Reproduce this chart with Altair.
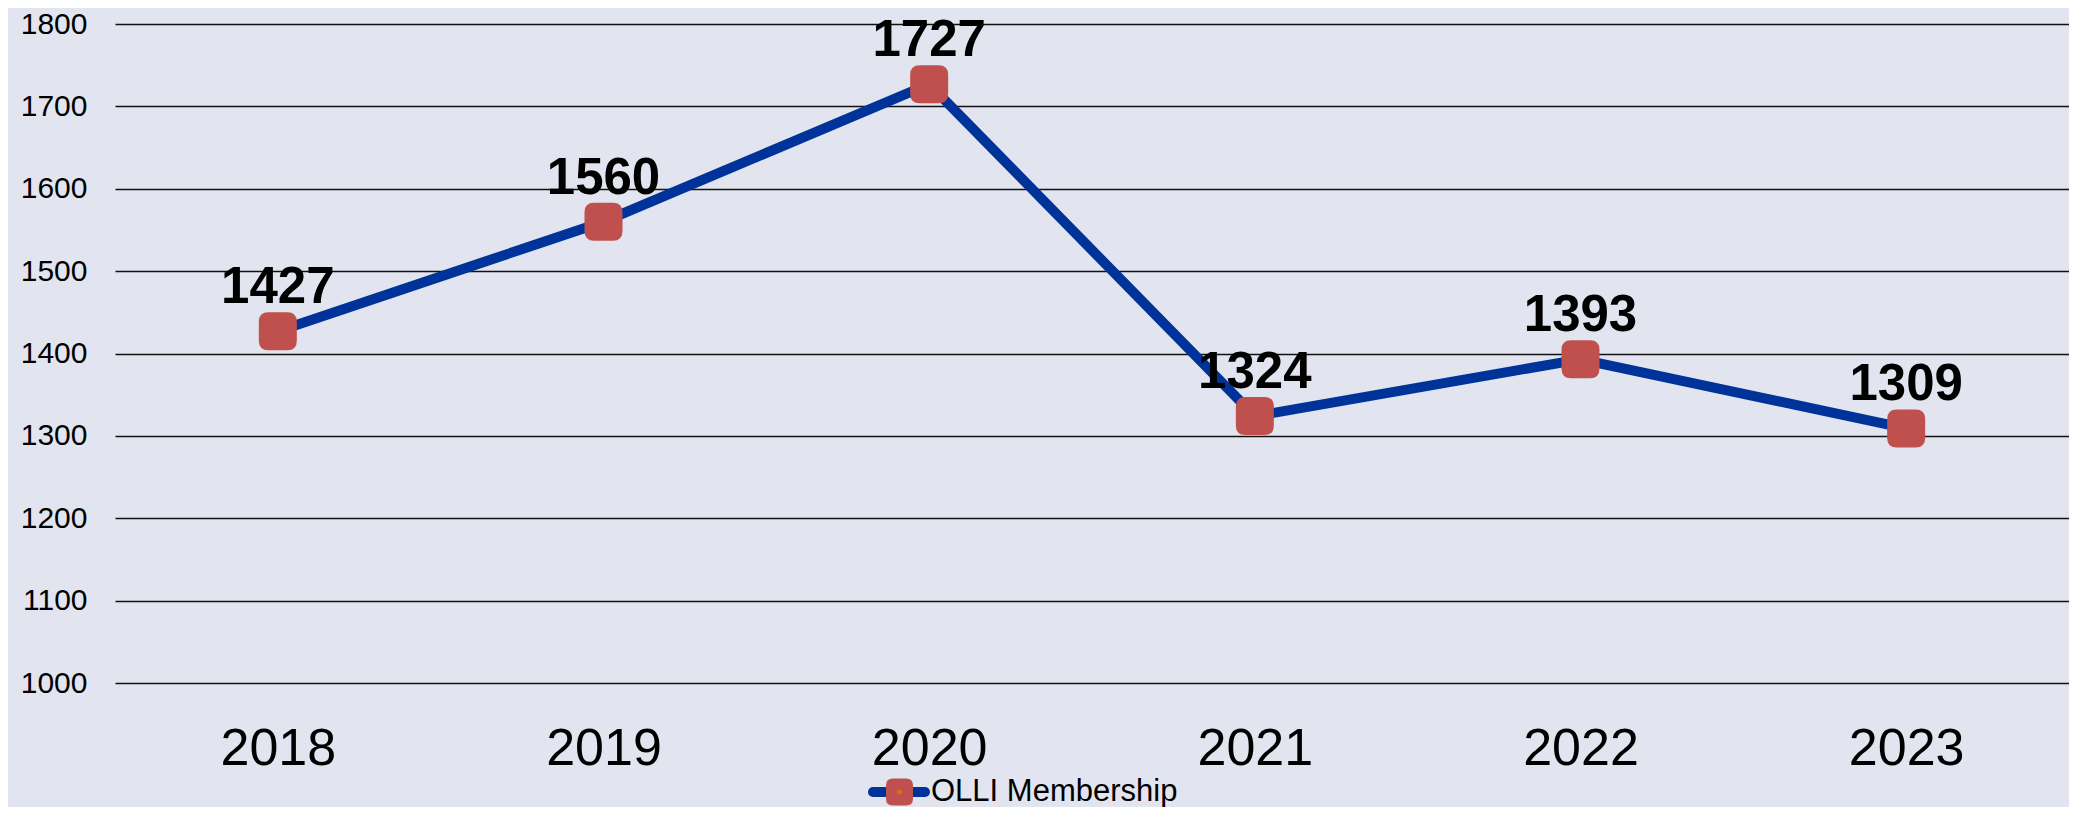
import altair as alt
import pandas as pd

years = ["2018", "2019", "2020", "2021", "2022", "2023"]
members = [1427, 1560, 1727, 1324, 1393, 1309]
y_ticks = [1000, 1100, 1200, 1300, 1400, 1500, 1600, 1700, 1800]
series_name = ["OLLI Membership"]

FONT = "Liberation Sans"
LINE_COLOR = "#003399"
MARK_COLOR = "#C0504D"
BG = "#E2E5EF"

ROUND_SQ = ("M -0.5,-1 L 0.5,-1 Q 1,-1 1,-0.5 L 1,0.5 Q 1,1 0.5,1 "
            "L -0.5,1 Q -1,1 -1,0.5 L -1,-0.5 Q -1,-1 -0.5,-1 Z")

df = pd.DataFrame({"year": years, "members": members})
leg = pd.DataFrame({"name": series_name})

W, H = 1954, 659

x = alt.X("year:O", sort=years,
          scale=alt.Scale(type="point", padding=0.5),
          axis=alt.Axis(title=None, labelAngle=0, labelFontSize=52, labelFont=FONT,
                        labelPadding=40, domain=False, ticks=False, labelColor="#000"))
y = alt.Y("members:Q",
          scale=alt.Scale(domain=[1000, 1800], nice=False, zero=False),
          axis=alt.Axis(title=None, values=y_ticks, format="d", grid=True, gridColor="#111",
                        gridWidth=1.3, domain=False, ticks=False, labelFontSize=30,
                        labelFont=FONT, labelPadding=28, labelColor="#000"))

base = alt.Chart(df)
line = base.mark_line(color=LINE_COLOR, strokeWidth=10).encode(x=x, y=y)
pts = base.mark_point(shape=ROUND_SQ, size=1444, filled=True, fill=MARK_COLOR,
                      opacity=1, strokeWidth=0).encode(x=x, y=y)
labels = base.mark_text(fontSize=51, fontWeight="bold", font=FONT, dy=-28,
                        baseline="alphabetic", color="#000").encode(
    x=x, y=y, text="members:Q")

lbase = alt.Chart(leg)
leg_line = lbase.mark_rule(color=LINE_COLOR, strokeWidth=10, strokeCap="round").encode(
    x=alt.value(758), x2=alt.value(810), y=alt.value(768))
leg_sq = lbase.mark_point(shape=ROUND_SQ, size=729, filled=True, fill=MARK_COLOR,
                          opacity=1, strokeWidth=0).encode(
    x=alt.value(784.5), y=alt.value(768))
leg_dot = lbase.mark_point(shape="square", size=16, filled=True, fill="#E46C0A",
                           opacity=1, strokeWidth=0).encode(
    x=alt.value(784.5), y=alt.value(768))
leg_text = lbase.mark_text(align="left", baseline="alphabetic", fontSize=31,
                           font=FONT, color="#000").encode(
    x=alt.value(816), y=alt.value(777), text="name:N")

chart = alt.layer(line, pts, labels, leg_line, leg_sq, leg_dot, leg_text).properties(
    width=W, height=H,
    autosize=alt.AutoSizeParams(type="none"),
    padding={"left": 107, "top": 16, "right": 0, "bottom": 124},
    background=BG,
).configure_view(stroke=None)

chart.save("out.html", embed_options={"renderer": "svg", "actions": False})
